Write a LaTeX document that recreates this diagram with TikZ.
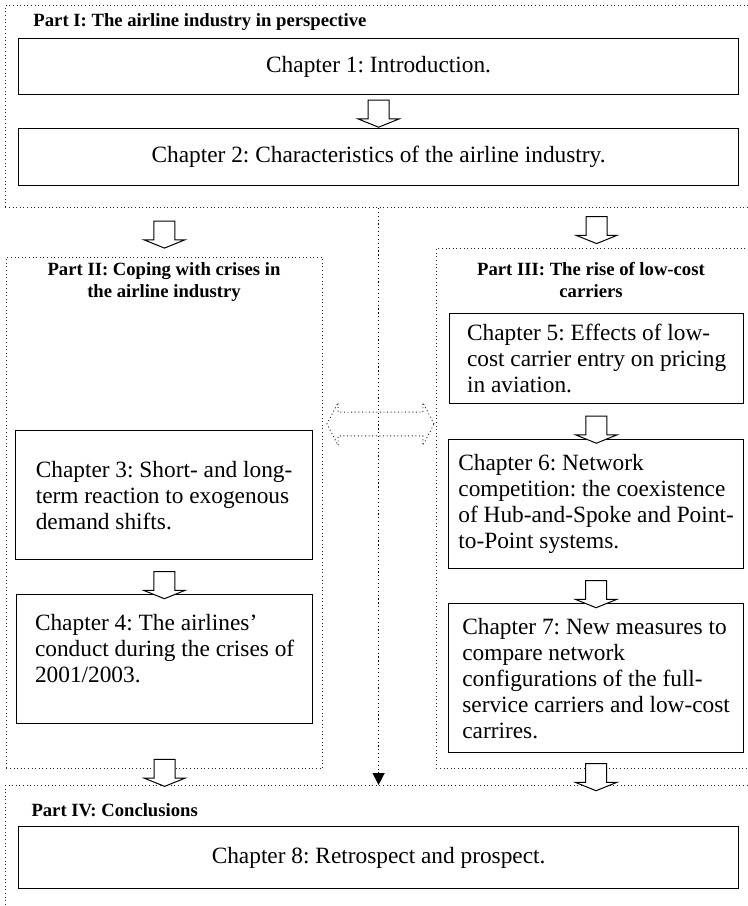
\documentclass[tikz,border=0pt]{standalone}
\usepackage{fontspec}
\setmainfont{Liberation Serif}
\usetikzlibrary{shapes.arrows,arrows.meta,calc}
\frenchspacing
\hyphenpenalty=10000

\tikzset{every picture/.style={line width=0.75pt}}

\begin{document}
\begin{tikzpicture}[x=0.75pt,y=0.75pt,yscale=-1,xscale=1,
  partbox/.style={draw=black!85, dotted, line width=0.7pt, anchor=north west, inner sep=0pt},
  chapbox/.style={draw, line width=0.9pt, fill=white, anchor=north west, inner sep=0pt, font=\fontsize{17.5}{19.5}\selectfont},
  parttitle/.style={inner sep=0pt, font=\bfseries\fontsize{14}{16}\selectfont},
  blockarrow/.style={draw, fill=white, line width=0.75pt, single arrow, rotate=-90, inner xsep=0pt, inner ysep=7.5pt, text height=0pt, text depth=0pt, minimum height=20.25pt, minimum width=30pt, single arrow head extend=7.5pt, single arrow tip angle=136},
  linkarrow/.style={draw=black!85, dotted, line width=0.7pt, double arrow, inner xsep=0pt, inner ysep=8.6pt, text height=0pt, text depth=0pt, minimum height=80.25pt, minimum width=31.5pt, double arrow head extend=7.1pt, double arrow tip angle=125}]
\useasboundingbox (0,0) rectangle (747,906);

% Parts (dotted frames)
\node[partbox, minimum width=570pt, minimum height=151.5pt] (partI) at (5,5) {};
\node[partbox, minimum width=237pt, minimum height=383.25pt] (partII) at (6,257) {};
\node[partbox, minimum width=247.5pt, minimum height=390pt] (partIII) at (436,248) {};
\node[partbox, minimum width=570pt, minimum height=105pt] (partIV) at (5,785) {};

% Part titles
\node[parttitle, anchor=west] (tI) at (33,22) {Part I: The airline industry in perspective};
\node[parttitle, align=center] (tII) at (164,282) {Part II: Coping with crises in\\the airline industry};
\node[parttitle, align=center] (tIII) at (591,280) {Part III: The rise of low-cost\\carriers};
\node[parttitle, anchor=west] (tIV) at (31,810) {Part IV: Conclusions};

% Chapters
\node[chapbox, minimum width=540pt, minimum height=42pt, align=center] (ch1) at (18,38) {Chapter 1: Introduction.};
\node[chapbox, minimum width=540pt, minimum height=42.75pt, align=center] (ch2) at (18,128) {Chapter 2: Characteristics of the airline industry.};
\node[chapbox, minimum width=222.75pt, minimum height=96.75pt, align=left] (ch3) at (15,430) {Chapter 3: Short- and long-\\term reaction to exogenous\\demand shifts.};
\node[chapbox, minimum width=222pt, minimum height=96.75pt, align=left] (ch4) at (16,594) {Chapter 4: The airlines’\\conduct during the crises of\\2001/2003.\\[-4pt]\mbox{}};
\node[chapbox, minimum width=220.5pt, minimum height=67.5pt, align=left] (ch5) at (449,313) {Chapter 5: Effects of low-\\cost carrier entry on pricing\\in aviation.};
\node[chapbox, minimum width=221.25pt, minimum height=96.75pt, align=left] (ch6) at (448,439) {Chapter 6: Network\\competition: the coexistence\\of Hub-and-Spoke and Point-\\to-Point systems.};
\node[chapbox, minimum width=221.25pt, minimum height=111.75pt, align=left] (ch7) at (448,603) {Chapter 7: New measures to\\compare network\\configurations of the full-\\service carriers and low-cost\\carrires.};
\node[chapbox, minimum width=540pt, minimum height=46.5pt, align=center] (ch8) at (18,826) {Chapter 8: Retrospect and prospect.};

% Link between Part II and Part III
\draw[dotted, line width=0.9pt, -{Triangle[length=9pt,width=9pt]}] (ch2.south |- partI.south) -- (ch2.south |- partIV.north);
\node[linkarrow] (link) at (380.5,424) {};

% Flow arrows
\node[blockarrow] (a12) at ($(ch1.south)!.5!(ch2.north)$) {};
\node[blockarrow] (aI2) at ($(partII.north |- partI.south)!.5!(partII.north)$) {};
\node[blockarrow] (aI3) at ($(ch5.north |- partI.south)!.5!(ch5.north |- partIII.north)$) {};
\node[blockarrow, xshift=4.5pt] (a34) at ($(ch3.south)!.5!(ch4.north)$) {};
\node[blockarrow, xshift=4.5pt] (a56) at ($(ch5.south)!.5!(ch6.north)$) {};
\node[blockarrow, xshift=4.5pt] (a67) at ($(ch6.south)!.5!(ch7.north)$) {};
\node[blockarrow, xshift=3pt] (a4IV) at ($(ch4.south)!.7!(ch4.south |- partIV.north)$) {};
\node[blockarrow, xshift=4.5pt] (a7IV) at ($(ch7.south)!.5!(ch7.south |- partIV.north)$) {};

\end{tikzpicture}
\end{document}
